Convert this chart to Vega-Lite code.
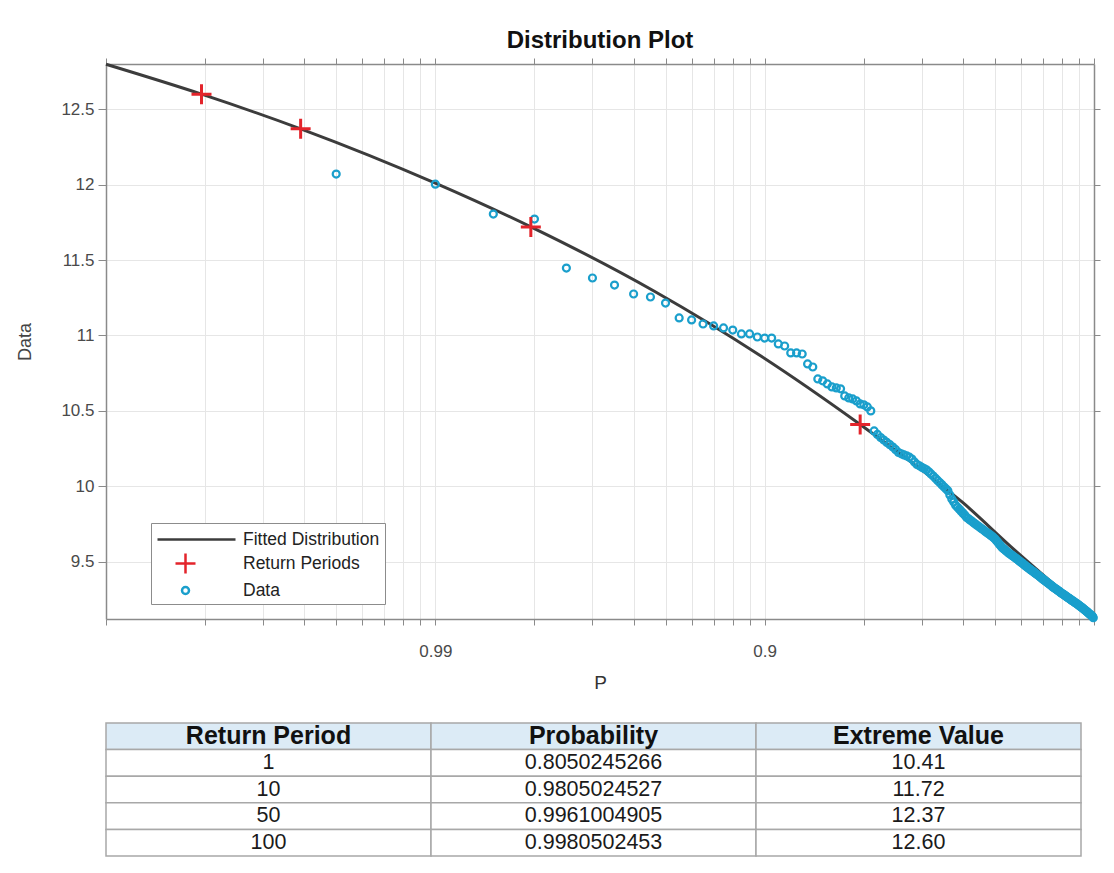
{
  "$schema": "https://vega.github.io/schema/vega-lite/v6.json",
  "background": "white",
  "padding": {"left": 16, "top": 28, "right": 10, "bottom": 5},
  "spacing": 30,
  "config": {
    "font": "Liberation Sans",
    "view": {"stroke": null}
  },
  "vconcat": [
    {
      "width": 988,
      "height": 555,
      "title": {"text": "Distribution Plot", "fontSize": 24, "fontWeight": "bold", "color": "#111111", "anchor": "middle", "offset": 5},
      "resolve": {"axis": {"x": "independent", "y": "independent"}},
      "layer": [
        {
          "data": {"values": [
            {"q": 0.001, "v": 12.798},
            {"q": 0.00195, "v": 12.60},
            {"q": 0.0039, "v": 12.37},
            {"q": 0.01, "v": 12.01},
            {"q": 0.0195, "v": 11.72},
            {"q": 0.0461, "v": 11.295},
            {"q": 0.0974, "v": 10.864},
            {"q": 0.195, "v": 10.41},
            {"q": 0.278, "v": 10.162},
            {"q": 0.4, "v": 9.891},
            {"q": 0.56, "v": 9.599},
            {"q": 0.74, "v": 9.368},
            {"q": 0.995, "v": 9.129}
          ]},
          "mark": {"type": "line", "color": "#3c3c3c", "strokeWidth": 3, "interpolate": "monotone"},
          "encoding": {
            "x": {"field": "q", "type": "quantitative",
              "scale": {"type": "log", "domain": [0.001, 1], "nice": false},
              "axis": {"orient": "bottom",
                "values": [0.001,0.002,0.003,0.004,0.005,0.006,0.007,0.008,0.009,0.01,0.02,0.03,0.04,0.05,0.06,0.07,0.08,0.09,0.1,0.2,0.3,0.4,0.5,0.6,0.7,0.8,0.9,1],
                "labelExpr": "abs(datum.value-0.01)<1e-9 ? '0.99' : (abs(datum.value-0.1)<1e-9 ? '0.9' : '')",
                "labelOverlap": false, "labelFlush": false,
                "title": "P", "grid": true, "gridColor": "#e6e6e6", "gridWidth": 1,
                "tickSize": 6, "tickColor": "#8a8a8a", "domainColor": "#8a8a8a", "domainWidth": 1.5,
                "labelColor": "#4a4a4a", "labelFontSize": 17, "labelPadding": 18,
                "titleFontSize": 19, "titleFontWeight": "normal", "titleColor": "#333333", "titlePadding": 14}},
            "y": {"field": "v", "type": "quantitative",
              "scale": {"domain": [9.12, 12.8], "zero": false, "nice": false},
              "axis": {"orient": "left", "values": [9.5,10,10.5,11,11.5,12,12.5], "format": "~g",
                "title": "Data", "grid": true, "gridColor": "#e6e6e6",
                "tickSize": 8, "tickColor": "#8a8a8a", "domainColor": "#8a8a8a", "domainWidth": 1.5,
                "labelColor": "#4a4a4a", "labelFontSize": 17, "labelPadding": 4,
                "titleFontSize": 18, "titleFontWeight": "normal", "titleColor": "#444444", "titlePadding": 26}}
          }
        },
        {
          "data": {"values": [
            {"q":0.005,"v":12.070,"series":"Data"},{"q":0.01,"v":12.003,"series":"Data"},{"q":0.015,"v":11.805,"series":"Data"},{"q":0.02,"v":11.772,"series":"Data"},
            {"q":0.025,"v":11.447,"series":"Data"},{"q":0.03,"v":11.381,"series":"Data"},{"q":0.035,"v":11.334,"series":"Data"},{"q":0.04,"v":11.275,"series":"Data"},
            {"q":0.045,"v":11.255,"series":"Data"},{"q":0.05,"v":11.215,"series":"Data"},{"q":0.055,"v":11.116,"series":"Data"},{"q":0.06,"v":11.103,"series":"Data"},
            {"q":0.065,"v":11.076,"series":"Data"},{"q":0.07,"v":11.063,"series":"Data"},{"q":0.075,"v":11.050,"series":"Data"},{"q":0.08,"v":11.036,"series":"Data"},
            {"q":0.085,"v":11.010,"series":"Data"},{"q":0.09,"v":11.010,"series":"Data"},{"q":0.095,"v":10.990,"series":"Data"},{"q":0.1,"v":10.983,"series":"Data"},
            {"q":0.105,"v":10.983,"series":"Data"},{"q":0.11,"v":10.944,"series":"Data"},{"q":0.115,"v":10.930,"series":"Data"},{"q":0.12,"v":10.884,"series":"Data"},
            {"q":0.125,"v":10.884,"series":"Data"},{"q":0.13,"v":10.877,"series":"Data"},{"q":0.135,"v":10.811,"series":"Data"},{"q":0.14,"v":10.791,"series":"Data"},
            {"q":0.145,"v":10.712,"series":"Data"},{"q":0.15,"v":10.699,"series":"Data"},{"q":0.155,"v":10.679,"series":"Data"},{"q":0.16,"v":10.659,"series":"Data"},
            {"q":0.165,"v":10.652,"series":"Data"},{"q":0.17,"v":10.646,"series":"Data"},{"q":0.175,"v":10.599,"series":"Data"},{"q":0.18,"v":10.586,"series":"Data"},
            {"q":0.185,"v":10.579,"series":"Data"},{"q":0.19,"v":10.566,"series":"Data"},{"q":0.195,"v":10.546,"series":"Data"},{"q":0.2,"v":10.540,"series":"Data"},
            {"q":0.205,"v":10.526,"series":"Data"},{"q":0.21,"v":10.500,"series":"Data"},
            {"q":0.215,"v":10.367,"series":"Data"},{"q":0.22,"v":10.344,"series":"Data"},{"q":0.225,"v":10.323,"series":"Data"},{"q":0.23,"v":10.307,"series":"Data"},
            {"q":0.235,"v":10.291,"series":"Data"},{"q":0.24,"v":10.276,"series":"Data"},{"q":0.245,"v":10.260,"series":"Data"},{"q":0.25,"v":10.243,"series":"Data"},
            {"q":0.255,"v":10.224,"series":"Data"},{"q":0.26,"v":10.215,"series":"Data"},{"q":0.265,"v":10.208,"series":"Data"},{"q":0.27,"v":10.201,"series":"Data"},
            {"q":0.275,"v":10.193,"series":"Data"},{"q":0.28,"v":10.181,"series":"Data"},{"q":0.285,"v":10.161,"series":"Data"},{"q":0.29,"v":10.145,"series":"Data"},
            {"q":0.295,"v":10.136,"series":"Data"},{"q":0.3,"v":10.126,"series":"Data"},{"q":0.305,"v":10.118,"series":"Data"},{"q":0.31,"v":10.109,"series":"Data"},
            {"q":0.315,"v":10.096,"series":"Data"},{"q":0.32,"v":10.082,"series":"Data"},{"q":0.325,"v":10.068,"series":"Data"},{"q":0.33,"v":10.053,"series":"Data"},
            {"q":0.335,"v":10.039,"series":"Data"},{"q":0.34,"v":10.025,"series":"Data"},{"q":0.345,"v":10.011,"series":"Data"},{"q":0.35,"v":9.997,"series":"Data"},
            {"q":0.355,"v":9.984,"series":"Data"},{"q":0.36,"v":9.971,"series":"Data"},{"q":0.365,"v":9.943,"series":"Data"},{"q":0.37,"v":9.915,"series":"Data"},
            {"q":0.375,"v":9.895,"series":"Data"},{"q":0.38,"v":9.874,"series":"Data"},{"q":0.385,"v":9.861,"series":"Data"},{"q":0.39,"v":9.848,"series":"Data"},
            {"q":0.395,"v":9.835,"series":"Data"},{"q":0.4,"v":9.822,"series":"Data"},{"q":0.405,"v":9.809,"series":"Data"},{"q":0.41,"v":9.795,"series":"Data"},
            {"q":0.415,"v":9.786,"series":"Data"},{"q":0.42,"v":9.777,"series":"Data"},{"q":0.425,"v":9.769,"series":"Data"},{"q":0.43,"v":9.760,"series":"Data"},
            {"q":0.435,"v":9.752,"series":"Data"},{"q":0.44,"v":9.744,"series":"Data"},{"q":0.445,"v":9.736,"series":"Data"},{"q":0.45,"v":9.728,"series":"Data"},
            {"q":0.455,"v":9.720,"series":"Data"},{"q":0.46,"v":9.713,"series":"Data"},{"q":0.465,"v":9.705,"series":"Data"},{"q":0.47,"v":9.697,"series":"Data"},
            {"q":0.475,"v":9.690,"series":"Data"},{"q":0.48,"v":9.683,"series":"Data"},{"q":0.485,"v":9.676,"series":"Data"},{"q":0.49,"v":9.669,"series":"Data"},
            {"q":0.495,"v":9.661,"series":"Data"},{"q":0.5,"v":9.652,"series":"Data"},{"q":0.505,"v":9.641,"series":"Data"},{"q":0.51,"v":9.630,"series":"Data"},
            {"q":0.515,"v":9.618,"series":"Data"},{"q":0.52,"v":9.607,"series":"Data"},{"q":0.525,"v":9.596,"series":"Data"},{"q":0.53,"v":9.588,"series":"Data"},
            {"q":0.535,"v":9.581,"series":"Data"},{"q":0.54,"v":9.573,"series":"Data"},{"q":0.545,"v":9.566,"series":"Data"},{"q":0.55,"v":9.558,"series":"Data"},
            {"q":0.555,"v":9.552,"series":"Data"},{"q":0.56,"v":9.546,"series":"Data"},{"q":0.565,"v":9.540,"series":"Data"},{"q":0.57,"v":9.534,"series":"Data"},
            {"q":0.575,"v":9.528,"series":"Data"},{"q":0.58,"v":9.522,"series":"Data"},{"q":0.585,"v":9.516,"series":"Data"},{"q":0.59,"v":9.509,"series":"Data"},
            {"q":0.595,"v":9.503,"series":"Data"},{"q":0.6,"v":9.497,"series":"Data"},{"q":0.605,"v":9.491,"series":"Data"},{"q":0.61,"v":9.485,"series":"Data"},
            {"q":0.615,"v":9.478,"series":"Data"},{"q":0.62,"v":9.472,"series":"Data"},{"q":0.625,"v":9.466,"series":"Data"},{"q":0.63,"v":9.460,"series":"Data"},
            {"q":0.635,"v":9.455,"series":"Data"},{"q":0.64,"v":9.449,"series":"Data"},{"q":0.645,"v":9.444,"series":"Data"},{"q":0.65,"v":9.438,"series":"Data"},
            {"q":0.655,"v":9.433,"series":"Data"},{"q":0.66,"v":9.427,"series":"Data"},{"q":0.665,"v":9.422,"series":"Data"},{"q":0.67,"v":9.416,"series":"Data"},
            {"q":0.675,"v":9.411,"series":"Data"},{"q":0.68,"v":9.406,"series":"Data"},{"q":0.685,"v":9.400,"series":"Data"},{"q":0.69,"v":9.395,"series":"Data"},
            {"q":0.695,"v":9.389,"series":"Data"},{"q":0.7,"v":9.384,"series":"Data"},{"q":0.705,"v":9.379,"series":"Data"},{"q":0.71,"v":9.374,"series":"Data"},
            {"q":0.715,"v":9.368,"series":"Data"},{"q":0.72,"v":9.363,"series":"Data"},{"q":0.725,"v":9.358,"series":"Data"},{"q":0.73,"v":9.353,"series":"Data"},
            {"q":0.735,"v":9.348,"series":"Data"},{"q":0.74,"v":9.343,"series":"Data"},{"q":0.745,"v":9.338,"series":"Data"},{"q":0.75,"v":9.333,"series":"Data"},
            {"q":0.755,"v":9.329,"series":"Data"},{"q":0.76,"v":9.324,"series":"Data"},{"q":0.765,"v":9.320,"series":"Data"},{"q":0.77,"v":9.315,"series":"Data"},
            {"q":0.775,"v":9.311,"series":"Data"},{"q":0.78,"v":9.307,"series":"Data"},{"q":0.785,"v":9.302,"series":"Data"},{"q":0.79,"v":9.298,"series":"Data"},
            {"q":0.795,"v":9.293,"series":"Data"},{"q":0.8,"v":9.289,"series":"Data"},{"q":0.805,"v":9.285,"series":"Data"},{"q":0.81,"v":9.281,"series":"Data"},
            {"q":0.815,"v":9.277,"series":"Data"},{"q":0.82,"v":9.273,"series":"Data"},{"q":0.825,"v":9.269,"series":"Data"},{"q":0.83,"v":9.265,"series":"Data"},
            {"q":0.835,"v":9.261,"series":"Data"},{"q":0.84,"v":9.257,"series":"Data"},{"q":0.845,"v":9.253,"series":"Data"},{"q":0.85,"v":9.249,"series":"Data"},
            {"q":0.855,"v":9.245,"series":"Data"},{"q":0.86,"v":9.241,"series":"Data"},{"q":0.865,"v":9.238,"series":"Data"},{"q":0.87,"v":9.234,"series":"Data"},
            {"q":0.875,"v":9.230,"series":"Data"},{"q":0.88,"v":9.226,"series":"Data"},{"q":0.885,"v":9.222,"series":"Data"},{"q":0.89,"v":9.219,"series":"Data"},
            {"q":0.895,"v":9.215,"series":"Data"},{"q":0.9,"v":9.211,"series":"Data"},{"q":0.905,"v":9.207,"series":"Data"},{"q":0.91,"v":9.203,"series":"Data"},
            {"q":0.915,"v":9.199,"series":"Data"},{"q":0.92,"v":9.195,"series":"Data"},{"q":0.925,"v":9.191,"series":"Data"},{"q":0.93,"v":9.187,"series":"Data"},
            {"q":0.935,"v":9.183,"series":"Data"},{"q":0.94,"v":9.178,"series":"Data"},{"q":0.945,"v":9.174,"series":"Data"},{"q":0.95,"v":9.170,"series":"Data"},
            {"q":0.955,"v":9.166,"series":"Data"},{"q":0.96,"v":9.162,"series":"Data"},{"q":0.965,"v":9.157,"series":"Data"},{"q":0.97,"v":9.153,"series":"Data"},
            {"q":0.975,"v":9.149,"series":"Data"},{"q":0.98,"v":9.145,"series":"Data"},{"q":0.985,"v":9.141,"series":"Data"},{"q":0.99,"v":9.136,"series":"Data"},
            {"q":0.995,"v":9.129,"series":"Data"}
          ]},
          "mark": {"type": "point", "filled": false, "size": 400, "strokeWidth": 2.2, "opacity": 1},
          "encoding": {
            "x": {"field": "q", "type": "quantitative", "axis": {"orient": "top", "values": [0.001,0.002,0.003,0.004,0.005,0.006,0.007,0.008,0.009,0.01,0.02,0.03,0.04,0.05,0.06,0.07,0.08,0.09,0.1,0.2,0.3,0.4,0.5,0.6,0.7,0.8,0.9,1], "labels": false, "title": null, "grid": false, "tickSize": 6, "tickColor": "#8a8a8a", "domainColor": "#8a8a8a", "domainWidth": 1.5}},
            "y": {"field": "v", "type": "quantitative", "axis": {"orient": "right", "values": [9.5,10,10.5,11,11.5,12,12.5], "labels": false, "title": null, "grid": false, "tickSize": 6, "tickColor": "#8a8a8a", "domainColor": "#8a8a8a", "domainWidth": 1.5}},
            "color": {"field": "series", "type": "nominal",
              "scale": {"domain": ["Fitted Distribution", "Return Periods", "Data"], "range": ["#3c3c3c", "#e3242b", "#1a9fcc"]},
              "legend": {"orient": "none", "legendX": 45, "legendY": 459, "title": null,
                "strokeColor": "#8c8c8c", "fillColor": "#ffffff", "padding": 5,
                "labelFontSize": 17.5, "labelColor": "#222222", "labelFont": "Liberation Sans",
                "symbolSize": 400, "symbolStrokeWidth": 2.5, "symbolOffset": 18, "labelOffset": 46, "rowPadding": 0}},
            "shape": {"field": "series", "type": "nominal",
              "scale": {"domain": ["Fitted Distribution", "Return Periods", "Data"], "range": ["M-2.8,0L5,0", "M-1,0L1,0M0,-1L0,1", "M-0.35,0A0.35,0.35,0,1,0,0.35,0A0.35,0.35,0,1,0,-0.35,0"]}}
          }
        },
        {
          "data": {"values": [
            {"q": 0.1949754734, "v": 10.41, "series": "Return Periods"},
            {"q": 0.0194975473, "v": 11.72, "series": "Return Periods"},
            {"q": 0.0038995095, "v": 12.37, "series": "Return Periods"},
            {"q": 0.0019497547, "v": 12.60, "series": "Return Periods"}
          ]},
          "mark": {"type": "point", "filled": false, "size": 400, "strokeWidth": 3, "opacity": 1},
          "encoding": {
            "x": {"field": "q", "type": "quantitative", "axis": null},
            "y": {"field": "v", "type": "quantitative", "axis": null},
            "color": {"field": "series", "type": "nominal"},
            "shape": {"field": "series", "type": "nominal"}
          }
        }
      ]
    },
    {
      "width": 975,
      "height": 133,
      "data": {"values": [
        {"row": 0, "col": 0, "kind": "header", "label": "Return Period"},
        {"row": 0, "col": 1, "kind": "header", "label": "Probability"},
        {"row": 0, "col": 2, "kind": "header", "label": "Extreme Value"},
        {"row": 1, "col": 0, "kind": "body", "label": "1"},
        {"row": 1, "col": 1, "kind": "body", "label": "0.8050245266"},
        {"row": 1, "col": 2, "kind": "body", "label": "10.41"},
        {"row": 2, "col": 0, "kind": "body", "label": "10"},
        {"row": 2, "col": 1, "kind": "body", "label": "0.9805024527"},
        {"row": 2, "col": 2, "kind": "body", "label": "11.72"},
        {"row": 3, "col": 0, "kind": "body", "label": "50"},
        {"row": 3, "col": 1, "kind": "body", "label": "0.9961004905"},
        {"row": 3, "col": 2, "kind": "body", "label": "12.37"},
        {"row": 4, "col": 0, "kind": "body", "label": "100"},
        {"row": 4, "col": 1, "kind": "body", "label": "0.9980502453"},
        {"row": 4, "col": 2, "kind": "body", "label": "12.60"}
      ]},
      "encoding": {
        "x": {"field": "col", "type": "ordinal", "scale": {"paddingInner": 0, "paddingOuter": 0}, "axis": null},
        "y": {"field": "row", "type": "ordinal", "scale": {"paddingInner": 0, "paddingOuter": 0}, "axis": null}
      },
      "layer": [
        {
          "mark": {"type": "rect", "stroke": "#a8a8a8", "strokeWidth": 1.5},
          "encoding": {"fill": {"field": "kind", "type": "nominal", "scale": {"domain": ["header", "body"], "range": ["#dcebf6", "#ffffff"]}, "legend": null}}
        },
        {
          "transform": [{"filter": "datum.kind == 'header'"}],
          "mark": {"type": "text", "fontSize": 25, "fontWeight": "bold", "color": "#111111", "baseline": "middle"},
          "encoding": {"text": {"field": "label"}}
        },
        {
          "transform": [{"filter": "datum.kind == 'body'"}],
          "mark": {"type": "text", "fontSize": 21.5, "color": "#1a1a1a", "baseline": "middle"},
          "encoding": {"text": {"field": "label"}}
        }
      ]
    }
  ]
}
